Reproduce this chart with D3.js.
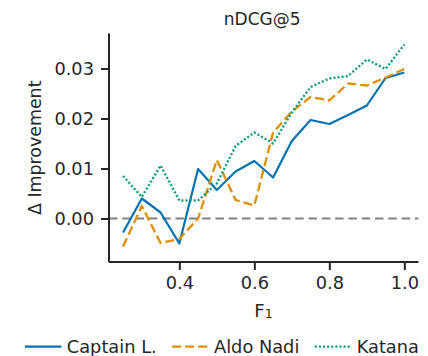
<!DOCTYPE html>
<html>
<head>
<meta charset="utf-8">
<script src="https://cdn.jsdelivr.net/npm/d3@7"></script>
<style>
  html, body { margin: 0; padding: 0; background: #fff; }
  svg { display: block; font-family: "DejaVu Sans", sans-serif; }
</style>
</head>
<body>
<svg id="chart" width="428" height="356"></svg>
<script>
const f1 = [0.25, 0.30, 0.35, 0.40, 0.45, 0.50, 0.55, 0.60, 0.65, 0.70, 0.75, 0.80, 0.85, 0.90, 0.95, 1.00];
const captainL = [-0.0028, 0.0040, 0.0012, -0.0050, 0.0099, 0.0057, 0.0094, 0.0115, 0.0082, 0.0155, 0.0197, 0.0189, 0.0207, 0.0226, 0.0281, 0.0292];
const aldoNadi = [-0.0056, 0.0025, -0.0049, -0.0041, 0.0000, 0.0117, 0.0037, 0.0026, 0.0172, 0.0214, 0.0243, 0.0236, 0.0270, 0.0266, 0.0282, 0.0299];
const katana = [0.0085, 0.0043, 0.0106, 0.0036, 0.0036, 0.0070, 0.0145, 0.0172, 0.0150, 0.0212, 0.0263, 0.0280, 0.0285, 0.0318, 0.0299, 0.0348];
const seriesNames = ["Captain L.", "Aldo Nadi", "Katana"];
const xTicks = [0.4, 0.6, 0.8, 1.0];
const yTicks = [0.00, 0.01, 0.02, 0.03];
const title = "nDCG@5";
const yLabel = "Δ Improvement";

const ink = "#262626";
const seriesData = [captainL, aldoNadi, katana];
const styles = [
  { color: "#0173b2", dash: null, width: 2.2 },
  { color: "#de8f05", dash: "9,4", width: 2.3 },
  { color: "#029e73", dash: "2,2.1", width: 2.3 }
];

const svg = d3.select("#chart");
const x = d3.scaleLinear().domain([0.2125, 1.0375]).range([109, 418.4]);
const y = d3.scaleLinear().domain([-0.0087, 0.037]).range([262, 33.5]);

// zero reference line
svg.append("line")
  .attr("x1", x.range()[0]).attr("x2", x.range()[1])
  .attr("y1", y(0)).attr("y2", y(0))
  .attr("stroke", "#808080").attr("stroke-width", 2)
  .attr("stroke-dasharray", "8.5,4.8");

// series lines
const line = d3.line().x((d, i) => x(f1[i])).y(d => y(d));
seriesData.forEach((vals, k) => {
  const p = svg.append("path")
    .datum(vals)
    .attr("d", line)
    .attr("fill", "none")
    .attr("stroke", styles[k].color)
    .attr("stroke-width", styles[k].width)
    .attr("stroke-linejoin", "round");
  if (styles[k].dash) p.attr("stroke-dasharray", styles[k].dash);
});

// axes
const xAxis = d3.axisBottom(x).tickValues(xTicks).tickFormat(d3.format(".1f")).tickSizeOuter(0).tickSize(8).tickPadding(6);
const yAxis = d3.axisLeft(y).tickValues(yTicks).tickFormat(d3.format(".2f")).tickSizeOuter(0).tickSize(8).tickPadding(7);

const gx = svg.append("g").attr("transform", `translate(0,${y.range()[0]})`).call(xAxis);
const gy = svg.append("g").attr("transform", `translate(${x.range()[0]},0)`).call(yAxis);
[gx, gy].forEach(g => {
  g.select(".domain").attr("stroke", ink).attr("stroke-width", 2);
  g.selectAll(".tick line").attr("stroke", ink).attr("stroke-width", 2);
  g.selectAll(".tick text").attr("fill", ink).attr("font-size", 17.8)
    .attr("font-family", "DejaVu Sans");
});
gx.select(".domain").attr("d", `M${x.range()[0]},0H${x.range()[1]}`);
gy.select(".domain").attr("d", `M0,${y.range()[0]}V${y.range()[1]}`);
gx.selectAll(".tick text").attr("dy", "0.71em");

// title
svg.append("text")
  .attr("x", (x.range()[0] + x.range()[1]) / 2 - 1.5).attr("y", 25)
  .attr("text-anchor", "middle").attr("font-size", 17).attr("fill", ink)
  .text(title);

// y label
svg.append("text")
  .attr("transform", `translate(41,${(y.range()[0] + y.range()[1]) / 2}) rotate(-90)`)
  .attr("text-anchor", "middle").attr("font-size", 17.4).attr("fill", ink)
  .text(yLabel);

// x label F1
const xl = svg.append("text")
  .attr("x", 263.5).attr("y", 316.8)
  .attr("text-anchor", "middle").attr("font-size", 18).attr("fill", ink);
xl.append("tspan").text("F");
xl.append("tspan").attr("font-size", 12.6).attr("dy", 1.6).text("1");

// legend
let lx = 25;
const ly = 346.7;
seriesNames.forEach((name, k) => {
  const h = svg.append("line")
    .attr("x1", lx).attr("x2", lx + 36.5)
    .attr("y1", ly).attr("y2", ly)
    .attr("stroke", styles[k].color).attr("stroke-width", styles[k].width);
  if (styles[k].dash) h.attr("stroke-dasharray", styles[k].dash);
  lx += 36.5 + 5.3;
  const t = svg.append("text")
    .attr("x", lx).attr("y", 353.3)
    .attr("font-size", 17.8).attr("fill", ink)
    .text(name);
  lx += t.node().getComputedTextLength() + 15.5;
});
</script>
</body>
</html>
